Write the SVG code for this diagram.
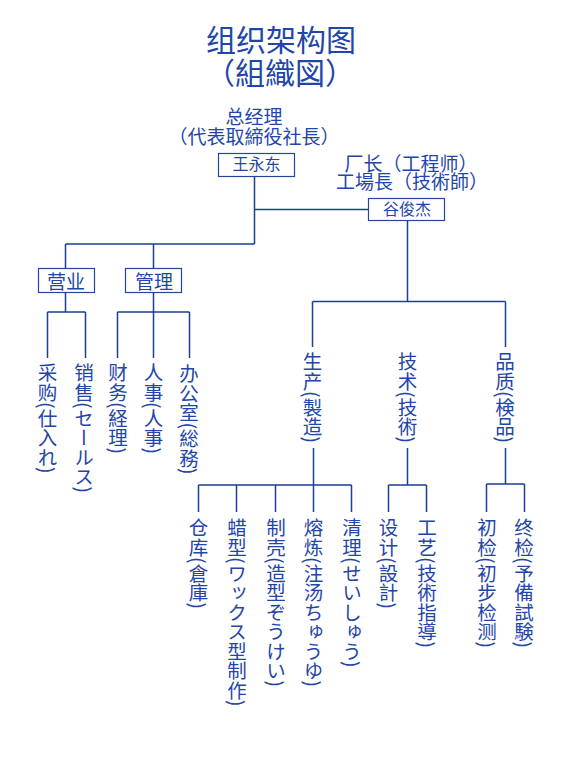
<svg xmlns="http://www.w3.org/2000/svg" width="573" height="759" viewBox="0 0 573 759">
<style>
text{font-family:"Noto Sans CJK SC","Noto Sans CJK JP",sans-serif;fill:#1f46a8}
.t{font-size:30px;text-anchor:middle}
.h{font-size:19px;text-anchor:middle}
.b{font-size:16px;text-anchor:middle}
.v{font-size:19.5px;writing-mode:vertical-rl}
.box{fill:#fff;stroke:#25479a;stroke-width:1.2}
.ln{fill:none;stroke:#1d3f8f;stroke-width:1.5}
</style>
<rect width="573" height="759" fill="#fff"/>
<g id="title">
<text class="t" x="281" y="51">组织架构图</text>
<text class="t" x="280" y="84">（組織図）</text>
</g>
<g id="connectors">
<path class="ln" d="M254.5 176.5V244M254.5 209.5H368.5M65.5 244H254.5M65.5 244V268M153.5 244V268"/>
<path class="ln" d="M65.5 293V312M47.5 312H85.5M47.5 312V358M85.5 312V358"/>
<path class="ln" d="M153.5 293V358M117.5 312H189.5M117.5 312V358M189.5 312V358"/>
<path class="ln" d="M407.5 221V301.5M312.5 301.5H505.5M312.5 301.5V347M505.5 301.5V347"/>
<path class="ln" d="M313.5 448V485M198.5 485H351.5M198.5 485V512M236.5 485V512M275.5 485V512M313.5 485V512M351.5 485V512"/>
<path class="ln" d="M407.5 448V485M388.5 485H426.5M388.5 485V512M426.5 485V512"/>
<path class="ln" d="M505.5 448V484M486.5 484H524.5M486.5 484V512M524.5 484V512"/>
</g>
<g id="ceo">
<text class="h" x="254" y="124">总经理</text>
<text class="h" x="254" y="144">（代表取締役社長）</text>
<rect class="box" x="218.5" y="153.5" width="76" height="23"/>
<text class="b" x="256.5" y="170">王永东</text>
</g>
<g id="plant">
<text class="h" x="411" y="171">厂长（工程师）</text>
<text class="h" x="412" y="189">工場長（技術師）</text>
<rect class="box" x="368.5" y="198.5" width="76" height="22"/>
<text class="b" x="407" y="215">谷俊杰</text>
</g>
<g id="sales">
<rect class="box" x="38.5" y="268.5" width="56" height="24"/>
<text class="h" x="66" y="289">营业</text>
</g>
<g id="admin">
<rect class="box" x="125.5" y="268.5" width="56" height="24"/>
<text class="h" x="154" y="289">管理</text>
</g>
<g id="purchase"><text class="v" x="47.5" y="363">采购(仕入れ)</text></g>
<g id="selling"><text class="v" x="84" y="363">销售(セールス)</text></g>
<g id="finance"><text class="v" x="118" y="363">财务(経理)</text></g>
<g id="hr"><text class="v" x="153.5" y="363">人事(人事)</text></g>
<g id="office"><text class="v" x="189" y="364">办公室(総務)</text></g>
<g id="production"><text class="v" x="312.5" y="352">生产(製造)</text></g>
<g id="tech"><text class="v" x="407.5" y="352">技术(技術)</text></g>
<g id="quality"><text class="v" x="505" y="352">品质(検品)</text></g>
<g id="warehouse"><text class="v" x="198.5" y="518">仓库(倉庫)</text></g>
<g id="wax"><text class="v" x="237" y="518">蜡型(ワックス型制作)</text></g>
<g id="shell"><text class="v" x="276" y="518">制壳(造型ぞうけい)</text></g>
<g id="melt"><text class="v" x="313.5" y="518">熔炼(注汤ちゅうゆ)</text></g>
<g id="clean"><text class="v" x="352" y="518">清理(せいしゅう)</text></g>
<g id="design"><text class="v" x="388.5" y="518">设计(設計)</text></g>
<g id="process"><text class="v" x="427" y="518">工艺(技術指導)</text></g>
<g id="initial"><text class="v" x="487" y="518">初检(初步检测)</text></g>
<g id="final"><text class="v" x="524" y="518">终检(予備試験)</text></g>
</svg>
